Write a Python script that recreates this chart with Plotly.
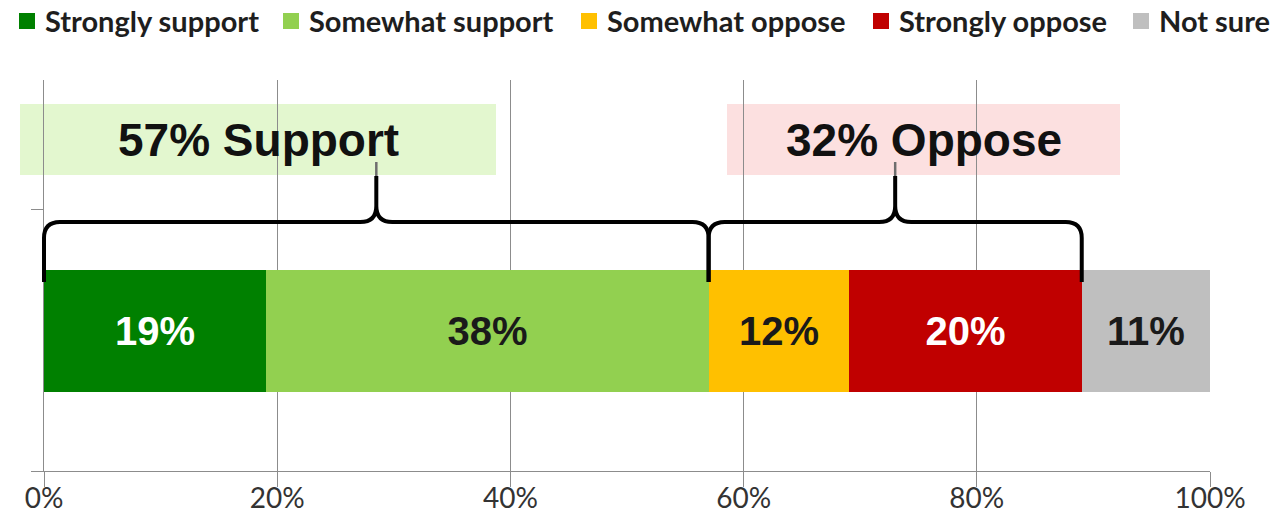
import plotly.graph_objects as go

# ---------------- data ----------------
categories = ["Strongly support", "Somewhat support", "Somewhat oppose", "Strongly oppose", "Not sure"]
values = [19, 38, 12, 20, 11]
bar_colors = ["#008000", "#92D050", "#FFC000", "#C00000", "#BFBFBF"]
label_colors = ["#FFFFFF", "#1A1A1A", "#1A1A1A", "#FFFFFF", "#1A1A1A"]
tick_vals = [0, 20, 40, 60, 80, 100]
tick_text = ["0%", "20%", "40%", "60%", "80%", "100%"]
group_names = ["Support", "Oppose"]
group_members = [[0, 1], [2, 3]]
group_fill = ["#E3F7CF", "#FCE0E0"]

# ---------------- layout geometry (page pixels) ----------------
W, H = 1276, 515
L, R, T, B = 44, 1210, 80, 471   # plot area


def xp(px):
    return (px - L) / (R - L)


def yp(py):
    return (B - py) / (B - T)


def xpix(v):
    return L + v / 100 * (R - L)


fig = go.Figure()

for i, (cat, val) in enumerate(zip(categories, values)):
    fig.add_trace(go.Bar(
        x=[val], y=[0.358], orientation="h", width=0.312,
        name=cat, marker=dict(color=bar_colors[i], line=dict(width=0)),
        text=[f"{val}%"], textposition="inside", insidetextanchor="middle",
        textfont=dict(family="Liberation Sans", size=40, color=label_colors[i], weight="bold"),
        showlegend=False, hoverinfo="x+name",
    ))

shapes = []
annotations = []

# ---- group boxes + brackets ----
box_px = [(20, 496), (727, 1120)]
cum = [0]
for v in values:
    cum.append(cum[-1] + v)

for g, members in enumerate(group_members):
    total = sum(values[m] for m in members)
    xa = cum[members[0]]
    xb = cum[members[-1] + 1]
    bx0, bx1 = box_px[g]
    shapes.append(dict(type="rect", xref="paper", yref="paper", layer="below",
                       x0=xp(bx0), x1=xp(bx1), y0=yp(175), y1=yp(104),
                       fillcolor=group_fill[g], line=dict(width=0)))
    annotations.append(dict(xref="paper", yref="paper", x=xp((bx0 + bx1) / 2), y=yp(140),
                            text=f"{total}% {group_names[g]}", showarrow=False,
                            xanchor="center", yanchor="middle",
                            font=dict(family="Liberation Sans", size=46, color="#111111", weight="bold")))
    # curly bracket
    pa, pb = xpix(xa), xpix(xb)
    pm = (pa + pb) / 2
    yb, yh, ys = 282, 222, 176
    r = 16

    def P(x, y):
        return f"{xp(x):.5f},{yp(y):.5f}"

    path = (f"M{P(pa, yb)} L{P(pa, yh + r)} Q{P(pa, yh)} {P(pa + r, yh)} "
            f"L{P(pm - r, yh)} Q{P(pm, yh)} {P(pm, yh - r)} L{P(pm, ys)} "
            f"M{P(pm, yh - r)} Q{P(pm, yh)} {P(pm + r, yh)} "
            f"L{P(pb - r, yh)} Q{P(pb, yh)} {P(pb, yh + r)} L{P(pb, yb)}")
    shapes.append(dict(type="path", xref="paper", yref="paper", layer="above", path=path,
                       line=dict(color="#000000", width=4)))
    shapes.append(dict(type="line", xref="paper", yref="paper", layer="above",
                       x0=xp(pm), x1=xp(pm), y0=yp(ys), y1=yp(162),
                       line=dict(color="#6E6E6E", width=2.5)))

# ---- manual legend ----
legend_sq_px = [19, 283, 581, 873, 1133]
for i, cat in enumerate(categories):
    sx = legend_sq_px[i]
    shapes.append(dict(type="rect", xref="paper", yref="paper",
                       x0=xp(sx), x1=xp(sx + 16), y0=yp(29), y1=yp(13),
                       fillcolor=bar_colors[i], line=dict(width=0)))
    annotations.append(dict(xref="paper", yref="paper", x=xp(sx + 24), y=yp(20),
                            text=cat, showarrow=False, xanchor="left", yanchor="middle",
                            font=dict(family="Lato", size=29, color="#1E1E1E", weight="bold")))

fig.update_layout(
    width=W, height=H,
    margin=dict(l=L, r=W - R, t=T, b=H - B, pad=0, autoexpand=False),
    paper_bgcolor="white", plot_bgcolor="white",
    barmode="stack", bargap=0,
    showlegend=False,
    shapes=shapes, annotations=annotations,
    xaxis=dict(range=[0, 100], tickvals=tick_vals, ticktext=tick_text,
               showgrid=True, gridcolor="#8C8C8C", gridwidth=1,
               ticks="outside", ticklen=15, tickcolor="#8C8C8C", tickwidth=1,
               showline=True, linecolor="#8C8C8C", linewidth=1,
               zeroline=False, fixedrange=True, automargin=False,
               ticklabelstandoff=-13,
               tickfont=dict(family="Lato", size=28, color="#333333")),
    yaxis=dict(range=[0, 1], tickvals=[0, yp(209)], showticklabels=False,
               showgrid=False, zeroline=False, automargin=False,
               ticks="outside", ticklen=12, tickcolor="#8C8C8C", tickwidth=1,
               showline=True, linecolor="#8C8C8C", linewidth=1, fixedrange=True),
)

fig.write_html("out.html",
               config={"displayModeBar": False},
               post_script="document.body.style.margin='0';document.body.style.overflow='hidden';")
